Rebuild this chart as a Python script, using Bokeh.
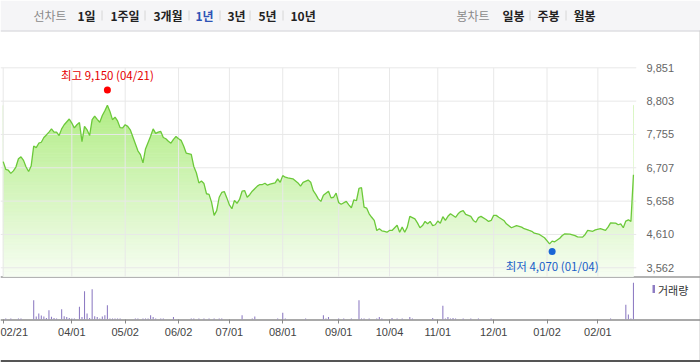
import numpy as np
from bokeh.plotting import figure
from bokeh.models import Range1d, FixedTicker, NumeralTickFormatter
from bokeh.core.properties import value
from bokeh.embed import file_html
from bokeh.resources import INLINE

# ---------------- data ----------------
# trading-day index (0 = 2022-02-21 ... 248 = 2023-02-21) and closing price (KRW)
days = [0, 1, 2, 3, 4, 5, 6, 7, 8, 9, 10, 11, 12, 13, 14, 15, 16, 17, 18, 19, 20, 21, 22, 23, 24,
        26, 27, 28, 29, 30, 31, 32, 33, 34, 35, 36, 37, 38, 39, 40, 41, 42, 43, 44, 45, 46, 47, 48, 49, 50,
        52, 53, 54, 55, 56,
        58, 59, 60, 61, 62, 63, 64, 65, 66, 67, 68, 69, 70, 71, 72,
        74, 75, 76, 77, 78, 79, 80, 81, 82, 83, 84, 85, 86, 87, 88, 89, 90, 91, 92, 93, 94, 95, 96, 97, 98,
        100, 101, 102, 103, 104, 105,
        107, 108, 109, 110, 111, 112,
        114,
        116, 117, 118,
        120, 121, 122, 123, 124, 125, 126,
        128, 129, 130, 131, 132, 133,
        135, 136, 137, 138, 139, 140, 141, 142, 143, 144, 145, 146, 147, 148, 149, 150, 151, 152, 153,
        155, 156, 157, 158, 159, 160,
        162, 163, 164, 165, 166, 167, 168, 169, 170, 171, 172, 173, 174, 175, 176,
        178, 179, 180, 181, 182,
        184, 185, 186, 187, 188,
        190, 191, 192, 193, 194, 195,
        197, 198, 200, 202, 204, 205, 207, 208, 209, 211, 213,
        215, 216, 217, 219, 220, 221, 223, 225, 226, 228, 229, 230, 232, 233, 235,
        237, 238, 239, 241, 242, 243, 244, 245, 246, 247, 248]
close = [6900, 6660, 6630, 6530, 6610, 6730, 6990, 7050, 6940, 6730, 6590, 6760, 7390, 7340, 7480, 7510,
         7660, 7740, 7830, 7930, 7830, 7830, 7720, 7930, 8060,
         8240, 8110, 7960, 8060, 8130, 7530, 8010, 7900, 7720, 8220, 8330, 8230, 8140, 8350, 8500, 8670,
         8480, 8220, 8300, 8180, 7970, 7960, 8060, 8010, 7900,
         7460, 7240, 7120, 6860, 7300,
         7700, 7930, 7790, 7830, 7850, 7660, 7620, 7540, 7480, 7600, 7690, 7620, 7570, 7390, 7170,
         7130, 6750, 6550, 6230, 6290, 6210, 5890, 5870, 5620, 5210, 5360, 5780, 5930, 5960, 5760, 5540,
         5420, 5680, 5590, 5710, 5970, 5990, 5780, 5860, 5970,
         6130, 6180, 6180, 6220, 6160, 6190,
         6230, 6360, 6250, 6460, 6410, 6390,
         6360,
         6230, 6130, 6250,
         6320, 6250, 5990, 5870, 5730, 5650, 5840,
         5970, 5760, 5780, 5910, 5610, 5560,
         5650, 5540, 5450, 5700, 5670, 6060, 6080, 5470, 5440, 5260, 5150, 5050, 4735, 4790, 4725, 4705,
         4680, 4735, 4735,
         4900, 4680, 4840, 4680, 4840, 5180,
         5100, 4975, 4820, 4890, 5020, 4945, 5020, 4890, 4915, 5030, 4965, 5170, 5050, 5180, 5260,
         5150, 5260, 5330, 5360, 5240,
         5180, 5050, 4995, 5140, 5180,
         5080, 5020, 5050, 5210, 5210, 5150,
         5050, 4945, 4820, 4890, 4840, 4790, 4735, 4710, 4650, 4610, 4505,
         4315, 4400, 4380, 4490, 4575, 4630, 4620, 4575, 4535, 4525, 4610, 4735, 4710, 4755, 4790,
         4735, 4840, 4975, 4965, 4915, 4945, 4820, 5030, 5070, 5020, 6490]

# trading volume (thousand shares)
vol_days = [1, 3, 6, 7,
            12, 13, 14, 15, 16, 17, 18, 19, 20, 21,
            23, 24, 25, 26, 27, 28,
            30, 31, 32, 33, 34, 35, 36, 37, 38, 39, 40, 41, 42, 43, 44, 45, 46,
            52, 53, 55, 56, 57, 58, 59, 60, 62, 63, 67,
            74, 75, 77, 79, 81, 83, 85, 86,
            94, 98, 99, 108, 110, 111, 119, 126, 127, 128, 132, 134, 137,
            140, 141, 142, 144, 147, 148, 149, 153, 155, 157, 160, 161, 169,
            173, 174, 175, 176, 177, 178, 181, 184, 187, 192, 239,
            245, 246, 247, 248]
volume = [100, 100, 100, 100,
          1930, 300, 600, 400, 300, 150, 930, 270, 150, 100,
          1030, 330, 250, 150, 100, 100,
          1270, 250, 2830, 600, 150, 3030, 330, 250, 100, 300, 430, 1430, 100, 100, 100, 100, 100,
          100, 100, 100, 100, 100, 430, 250, 100, 100, 100, 250,
          100, 100, 100, 100, 100, 100, 100, 100,
          430, 100, 300, 100, 670, 100, 100, 430, 100, 250, 100, 100, 100,
          1930, 100, 100, 100, 100, 250, 100, 150, 100, 100, 250, 100, 150,
          1370, 100, 250, 100, 150, 100, 100, 100, 100, 100, 100,
          1470, 500, 100, 3670]

tick_days = [0, 27, 48, 69, 89, 110, 132, 152, 171, 193, 214, 234]
tick_labels = ["02/21", "04/01", "05/02", "06/02", "07/01", "08/01", "09/01",
               "10/04", "11/01", "12/01", "01/02", "02/01"]
price_ticks = [3562, 4610, 5658, 6707, 7755, 8803, 9851]

high_day, high_price, high_date = 41, 9150, "04/21"
low_day, low_price, low_date = 216, 4070, "01/04"

# ---------------- styles ----------------
KR = "Noto Sans CJK KR"
LAT = "Liberation Sans"
LINE_GREEN = "#6cc93a"
VOL_PURPLE = "#8e7cc3"
GRID = "#e8e8e8"
PRICE_FLOOR = 3287          # value at the bottom edge of the price panel
POS = {"position": "absolute", "left": "0px", "top": "0px"}

# ---------------- background / frame figure ----------------
bg = figure(width=700, height=362, x_range=Range1d(0, 700), y_range=Range1d(362, 0),
            output_backend="svg", toolbar_location=None, min_border=0,
            x_axis_location=None, y_axis_location=None, outline_line_color=None,
            background_fill_color="white", border_fill_color="white")
bg.grid.visible = False
bg.styles = POS

bg.quad(left=[0], right=[700], top=[0], bottom=[30], fill_color="#f5f5f7", line_color=None)
bg.segment(x0=[0], y0=[30.5], x1=[700], y1=[30.5], line_color="#cfcfd4", line_width=1)
bg.segment(x0=[699.5], y0=[30], x1=[699.5], y1=[362], line_color="#c8c8c8", line_width=1)
bg.segment(x0=[0], y0=[276.5], x1=[700], y1=[276.5], line_color="#9a9a9a", line_width=1.5)
bg.segment(x0=[0], y0=[319.5], x1=[700], y1=[319.5], line_color="#8c8c8c", line_width=1.5)
bg.quad(left=[0], right=[700], top=[359.5], bottom=[362], fill_color="#555555", line_color=None)

# header menu
left_items = ["1일", "1주일", "3개월", "1년", "3년", "5년", "10년"]
left_x = [77, 110, 153, 195, 227, 258, 290]
left_col = ["#222222", "#222222", "#222222", "#2d53b5", "#222222", "#222222", "#222222"]
right_items = ["일봉", "주봉", "월봉"]
right_x = [502, 537, 573]
seps_x = [101, 144, 188, 219, 249, 282, 529, 565]

bg.text(x=[33, 456], y=[15, 15], text=["선차트", "봉차트"], text_font=value(KR),
        text_font_size="12px", text_color="#8a8a8a", text_baseline="middle", text_align="left")
bg.text(x=left_x, y=[15] * len(left_x), text=left_items, text_font=value(KR),
        text_font_size="12px", text_font_style="bold", text_color=left_col,
        text_baseline="middle", text_align="left")
bg.text(x=right_x, y=[15] * len(right_x), text=right_items, text_font=value(KR),
        text_font_size="12px", text_font_style="bold", text_color="#222222",
        text_baseline="middle", text_align="left")
bg.segment(x0=[s + 0.5 for s in seps_x], y0=[10] * len(seps_x),
           x1=[s + 0.5 for s in seps_x], y1=[20] * len(seps_x), line_color="#d6d6d6")

# volume legend
bg.quad(left=[652], right=[654.5], top=[284.5], bottom=[292.5], fill_color=VOL_PURPLE, line_color=None)
bg.text(x=[657.5], y=[289], text=["거래량"], text_font=value(KR), text_font_size="11px",
        text_color="#333333", text_baseline="middle", text_align="left")

# ---------------- chart figure ----------------
p = figure(width=700, height=362, x_range=Range1d(-1.063, 249.2), y_range=Range1d(1935, 10081),
           output_backend="svg", toolbar_location=None, y_axis_location="right",
           min_border_left=0, min_border_right=64, min_border_top=60, min_border_bottom=43,
           outline_line_color=None, background_fill_color=None, border_fill_color=None)
p.styles = POS
p.grid.visible = False
p.extra_y_ranges = {"vol": Range1d(0, 25930)}

# gradient area under the price line
top = max(close)
n_bands = 60
edges = np.linspace(PRICE_FLOOR, top, n_bands + 1)
c_top = np.array([0xb2, 0xed, 0x86])
c_bot = np.array([0xf7, 0xfd, 0xf3])
mids = (edges[:-1] + edges[1:]) / 2
fr = (mids - PRICE_FLOOR) / (top - PRICE_FLOOR)
band_cols = ["#%02x%02x%02x" % tuple(int(round(v)) for v in (c_bot + (c_top - c_bot) * f)) for f in fr]
p.quad(left=days[0], right=days[-1], bottom=edges[:-1], top=edges[1:],
       fill_color=band_cols, line_color=band_cols, line_width=0.8)
p.varea(x=days, y1=close, y2=[top + 60] * len(days), fill_color="white")

# grid
xs0 = [p.x_range.start] * len(price_ticks)
xs1 = [p.x_range.end] * len(price_ticks)
p.segment(x0=xs0, y0=price_ticks, x1=xs1, y1=price_ticks, line_color=GRID, line_width=1)
p.segment(x0=tick_days, y0=[PRICE_FLOOR] * len(tick_days), x1=tick_days,
          y1=[max(price_ticks)] * len(tick_days), line_color=GRID, line_width=1)

# price line
p.line(days, close, line_color=LINE_GREEN, line_width=1.3)

# volume bars
p.vbar(x=vol_days, top=volume, width=0.42, y_range_name="vol", fill_color=VOL_PURPLE,
       line_color=None)

# high / low markers
p.scatter([high_day], [high_price], size=7, fill_color="#ff0000", line_color=None)
p.text([high_day], [high_price], text=[f"최고 {high_price:,} ({high_date})"], text_font=value(KR),
       text_font_size="11.5px", text_color="#e60000", text_align="center", text_baseline="bottom",
       y_offset=-7)
p.scatter([low_day], [low_price], size=7, fill_color="#1a66d6", line_color=None)
p.text([low_day], [low_price], text=[f"최저 {low_price:,} ({low_date})"], text_font=value(KR),
       text_font_size="11.5px", text_color="#1a5fc8", text_align="center", text_baseline="top",
       y_offset=6)

# axes
ya = p.yaxis[0]
ya.ticker = FixedTicker(ticks=price_ticks)
ya.formatter = NumeralTickFormatter(format="0,0")
ya.axis_line_color = None
ya.major_tick_line_color = None
ya.minor_tick_line_color = None
ya.major_label_standoff = 4
ya.major_label_text_font = LAT
ya.major_label_text_font_size = "11px"
ya.major_label_text_color = "#666666"

xa = p.xaxis[0]
xa.ticker = FixedTicker(ticks=tick_days)
xa.major_label_overrides = {d: lab for d, lab in zip(tick_days, tick_labels)}
xa.axis_line_color = None
xa.major_tick_in = 0
xa.major_tick_out = 4
xa.major_tick_line_color = "#888888"
xa.minor_tick_line_color = None
xa.major_label_standoff = 2
xa.major_label_text_font = LAT
xa.major_label_text_font_size = "11px"
xa.major_label_text_color = "#444444"
xa.major_label_text_align = "left"

open("out.html", "w").write(file_html([bg, p], INLINE))
